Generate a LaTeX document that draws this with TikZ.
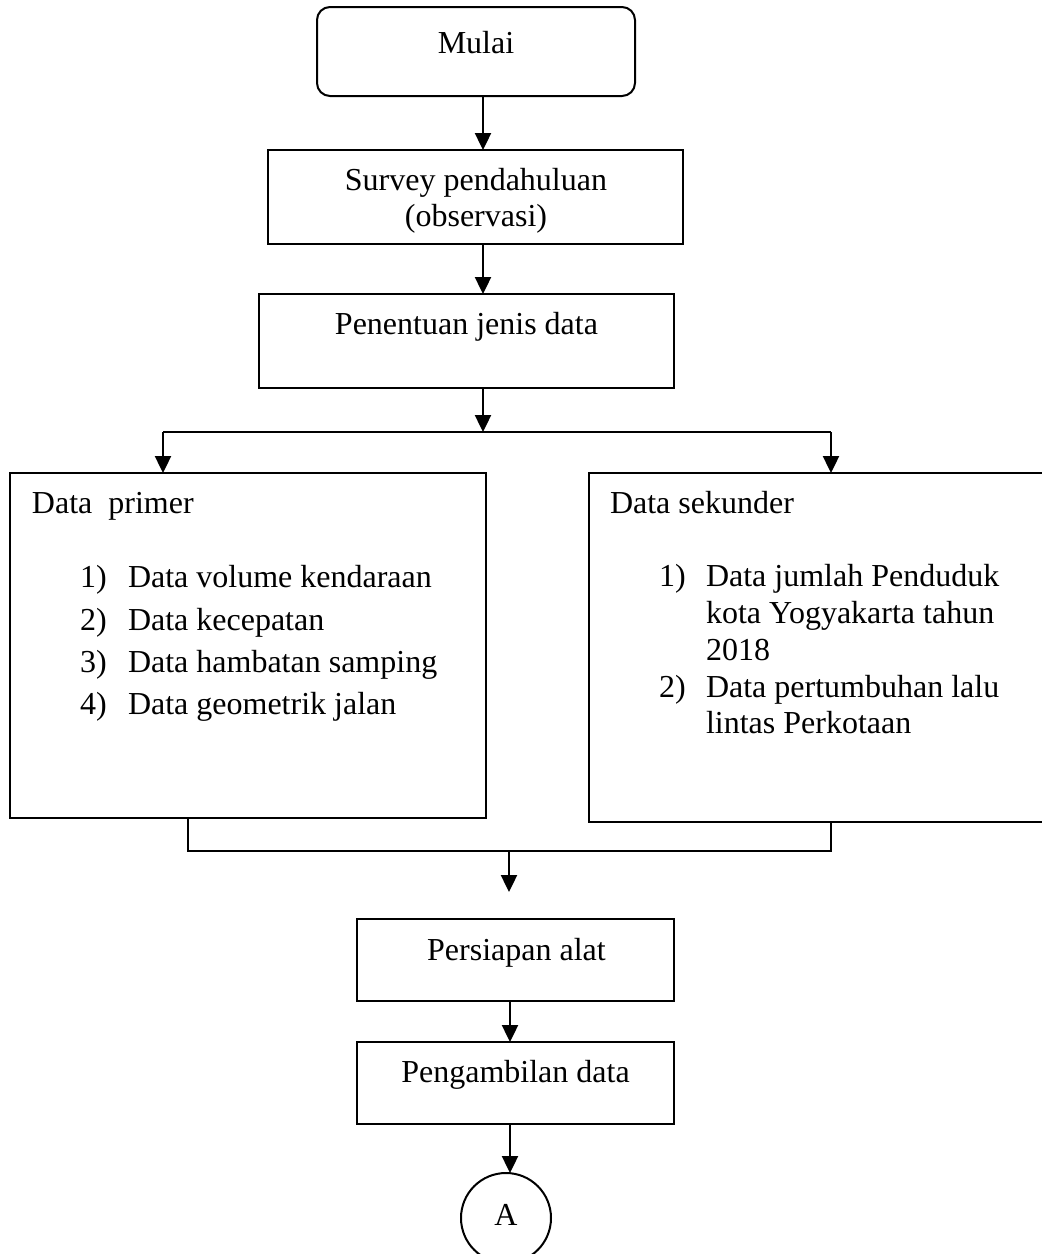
\documentclass[tikz,border=0pt]{standalone}
\usepackage{fontspec}
\setmainfont{Liberation Serif}
\usetikzlibrary{arrows.meta}
\begin{document}
\begin{tikzpicture}[x=0.5pt,y=-0.5pt,
  box/.style={draw, line width=1pt, inner sep=0pt, outer sep=0pt},
  txt/.style={inner sep=0pt, outer sep=0pt, font=\fontsize{16}{19}\selectfont},
  arr/.style={line width=1.2pt, -{Triangle[length=8.5pt,width=8pt]}},
  conn/.style={line width=0.9pt}]
\useasboundingbox (0,0) rectangle (1041,1254);

% boxes
\node[box, rounded corners=6.5pt, minimum width=159pt, minimum height=44.5pt] (mulai) at (476,51.5) {};
\node[box, minimum width=207.5pt, minimum height=47pt] (survey) at (475.5,197) {};
\node[box, minimum width=207.5pt, minimum height=47pt] (jenis) at (466.5,341) {};
\node[box, minimum width=238pt, minimum height=172.5pt] (primer) at (248,645.5) {};
\node[box, minimum width=250.5pt, minimum height=174.5pt] (sekunder) at (839.5,647.5) {};
\node[box, minimum width=158.5pt, minimum height=41pt] (alat) at (515.5,960) {};
\node[box, minimum width=158.5pt, minimum height=41pt] (ambil) at (515.5,1083) {};
\node[box, circle, minimum size=45pt] (A) at (506,1218) {};

% texts
\node[txt, anchor=base] (tmulai) at (476,53) {Mulai};
\node[txt, anchor=base] (tsurvey1) at (476,190) {Survey pendahuluan};
\node[txt, anchor=base] (tsurvey2) at (476,226) {(observasi)};
\node[txt, anchor=base] (tjenis) at (466.5,334) {Penentuan jenis data};

\node[txt, anchor=base west] (tprimer) at (32,513) {Data\ \ primer};
\node[txt, anchor=base west] (p1n) at (80,587) {1)};
\node[txt, anchor=base west] (p1) at (128,587) {Data volume kendaraan};
\node[txt, anchor=base west] (p2n) at (80,630) {2)};
\node[txt, anchor=base west] (p2) at (128,630) {Data kecepatan};
\node[txt, anchor=base west] (p3n) at (80,672) {3)};
\node[txt, anchor=base west] (p3) at (128,672) {Data hambatan samping};
\node[txt, anchor=base west] (p4n) at (80,714) {4)};
\node[txt, anchor=base west] (p4) at (128,714) {Data geometrik jalan};

\node[txt, anchor=base west] (tsek) at (610,513) {Data sekunder};
\node[txt, anchor=base west] (s1n) at (659,586) {1)};
\node[txt, anchor=base west] (s1a) at (706,586) {Data jumlah Penduduk};
\node[txt, anchor=base west] (s1b) at (706,623) {kota Yogyakarta tahun};
\node[txt, anchor=base west] (s1c) at (706,660) {2018};
\node[txt, anchor=base west] (s2n) at (659,697) {2)};
\node[txt, anchor=base west] (s2a) at (706,697) {Data pertumbuhan lalu};
\node[txt, anchor=base west] (s2b) at (706,733) {lintas Perkotaan};

\node[txt, anchor=base] (talat) at (516.5,960) {Persiapan alat};
\node[txt, anchor=base] (tambil) at (515.5,1082) {Pengambilan data};
\node[txt, anchor=base] (tA) at (506,1225) {A};

% helper coordinates
\coordinate (c1) at (483,0);
\coordinate (jl) at (163,432);
\coordinate (jr) at (831,432);
\coordinate (jm) at (483,432);
\coordinate (bl) at (188,851);
\coordinate (br) at (831,851);
\coordinate (bm) at (509,851);
\coordinate (bend) at (509,892);
\coordinate (c2) at (510,0);

% connectors
\draw[arr] (mulai.south -| c1) -- (survey.north -| c1);
\draw[arr] (survey.south -| c1) -- (jenis.north -| c1);
\draw[arr] (jenis.south -| c1) -- (jm);
\draw[line width=1.2pt] (jl) -- (jr);
\draw[arr] (jl) -- (primer.north -| jl);
\draw[arr] (jr) -- (sekunder.north -| jr);

\draw[conn] (primer.south -| bl) -- (bl) -- (br) -- (sekunder.south -| br);
\draw[arr] (bm) -- (bend);

\draw[arr] (alat.south -| c2) -- (ambil.north -| c2);
\draw[arr] (ambil.south -| c2) -- (A.north -| c2);
\end{tikzpicture}
\end{document}
